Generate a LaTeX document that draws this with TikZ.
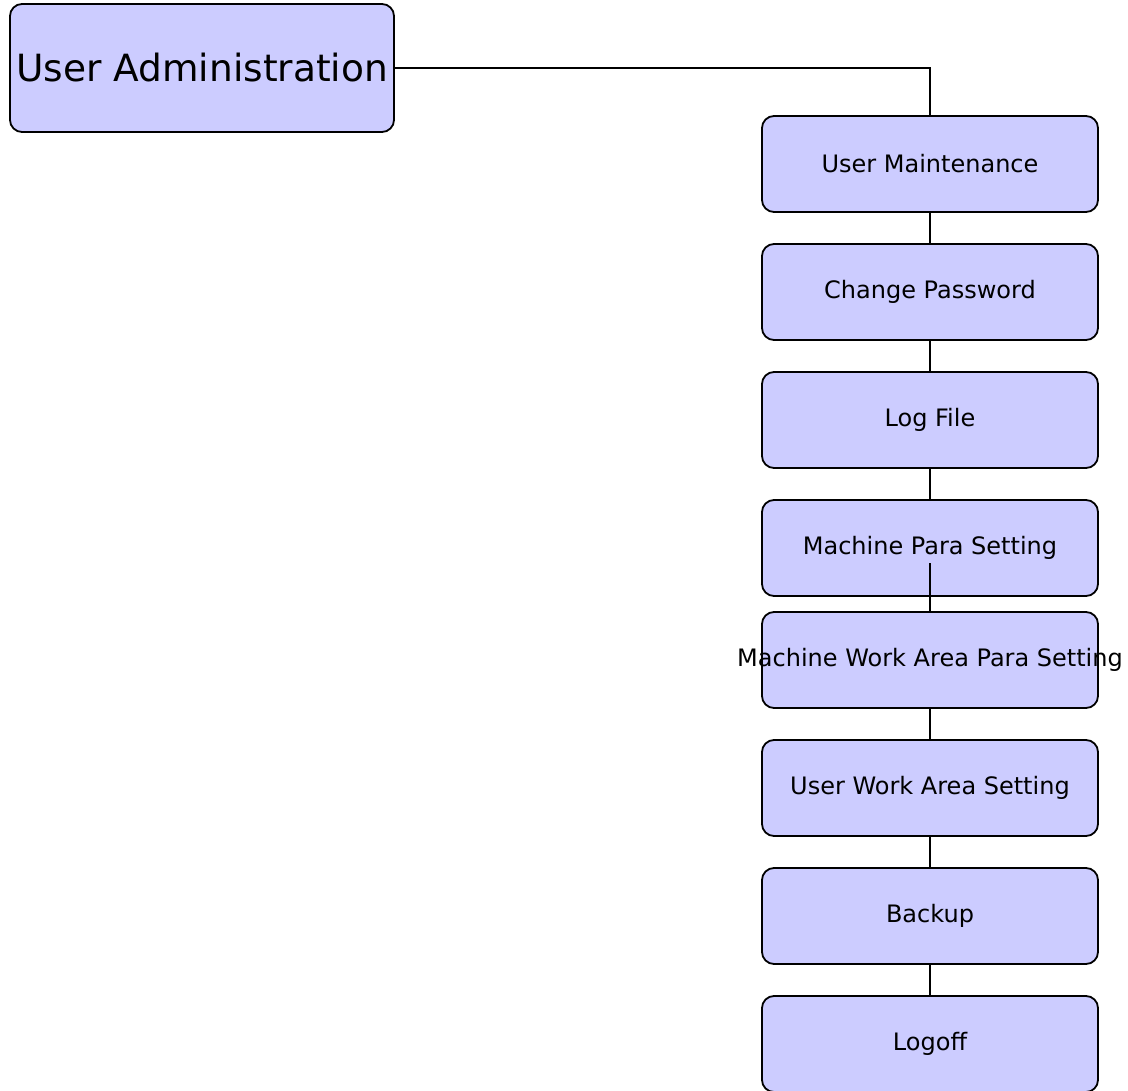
\documentclass[tikz,border=0pt]{standalone}
\usepackage{fontspec}
\setmainfont{DejaVu Sans}
\definecolor{boxfill}{HTML}{CCCCFF}
\begin{document}
\begin{tikzpicture}[x=1pt,y=-1pt,
	menu/.style={draw,line width=1.8pt,fill=boxfill,rounded corners=12pt,inner sep=0pt,font=\fontsize{24}{28}\selectfont},
	sub/.style={menu,minimum width=336pt,minimum height=96pt},
	link/.style={line width=1.8pt}]
	\useasboundingbox (0,0) rectangle (1128,1091);
	\node[menu,minimum width=384pt,minimum height=128pt,font=\fontsize{37.5}{44}\selectfont] (admin) at (202,68) {User Administration};
	\node[sub] (usermaint) at (930,164) {User Maintenance};
	\node[sub] (chpass) at (930,292) {Change Password};
	\node[sub] (logfile) at (930,420) {Log File};
	\node[sub] (machpara) at (930,548) {Machine Para Setting};
	\node[sub] (machwork) at (930,660) {\makebox[0pt]{Machine Work Area Para Setting}};
	\node[sub] (userwork) at (930,788) {User Work Area Setting};
	\node[sub] (backup) at (930,916) {Backup};
	\node[sub] (logoff) at (930,1044) {Logoff};
	\draw[link] (admin.east) -| (usermaint.north);
	\draw[link] (usermaint) -- (chpass);
	\draw[link] (chpass) -- (logfile);
	\draw[link] (logfile) -- (machpara);
	\draw[link] ([yshift=-15pt]machpara.center) -- (machwork.north);
	\draw[link] (machwork) -- (userwork);
	\draw[link] (userwork) -- (backup);
	\draw[link] (backup) -- (logoff);
\end{tikzpicture}
\end{document}
